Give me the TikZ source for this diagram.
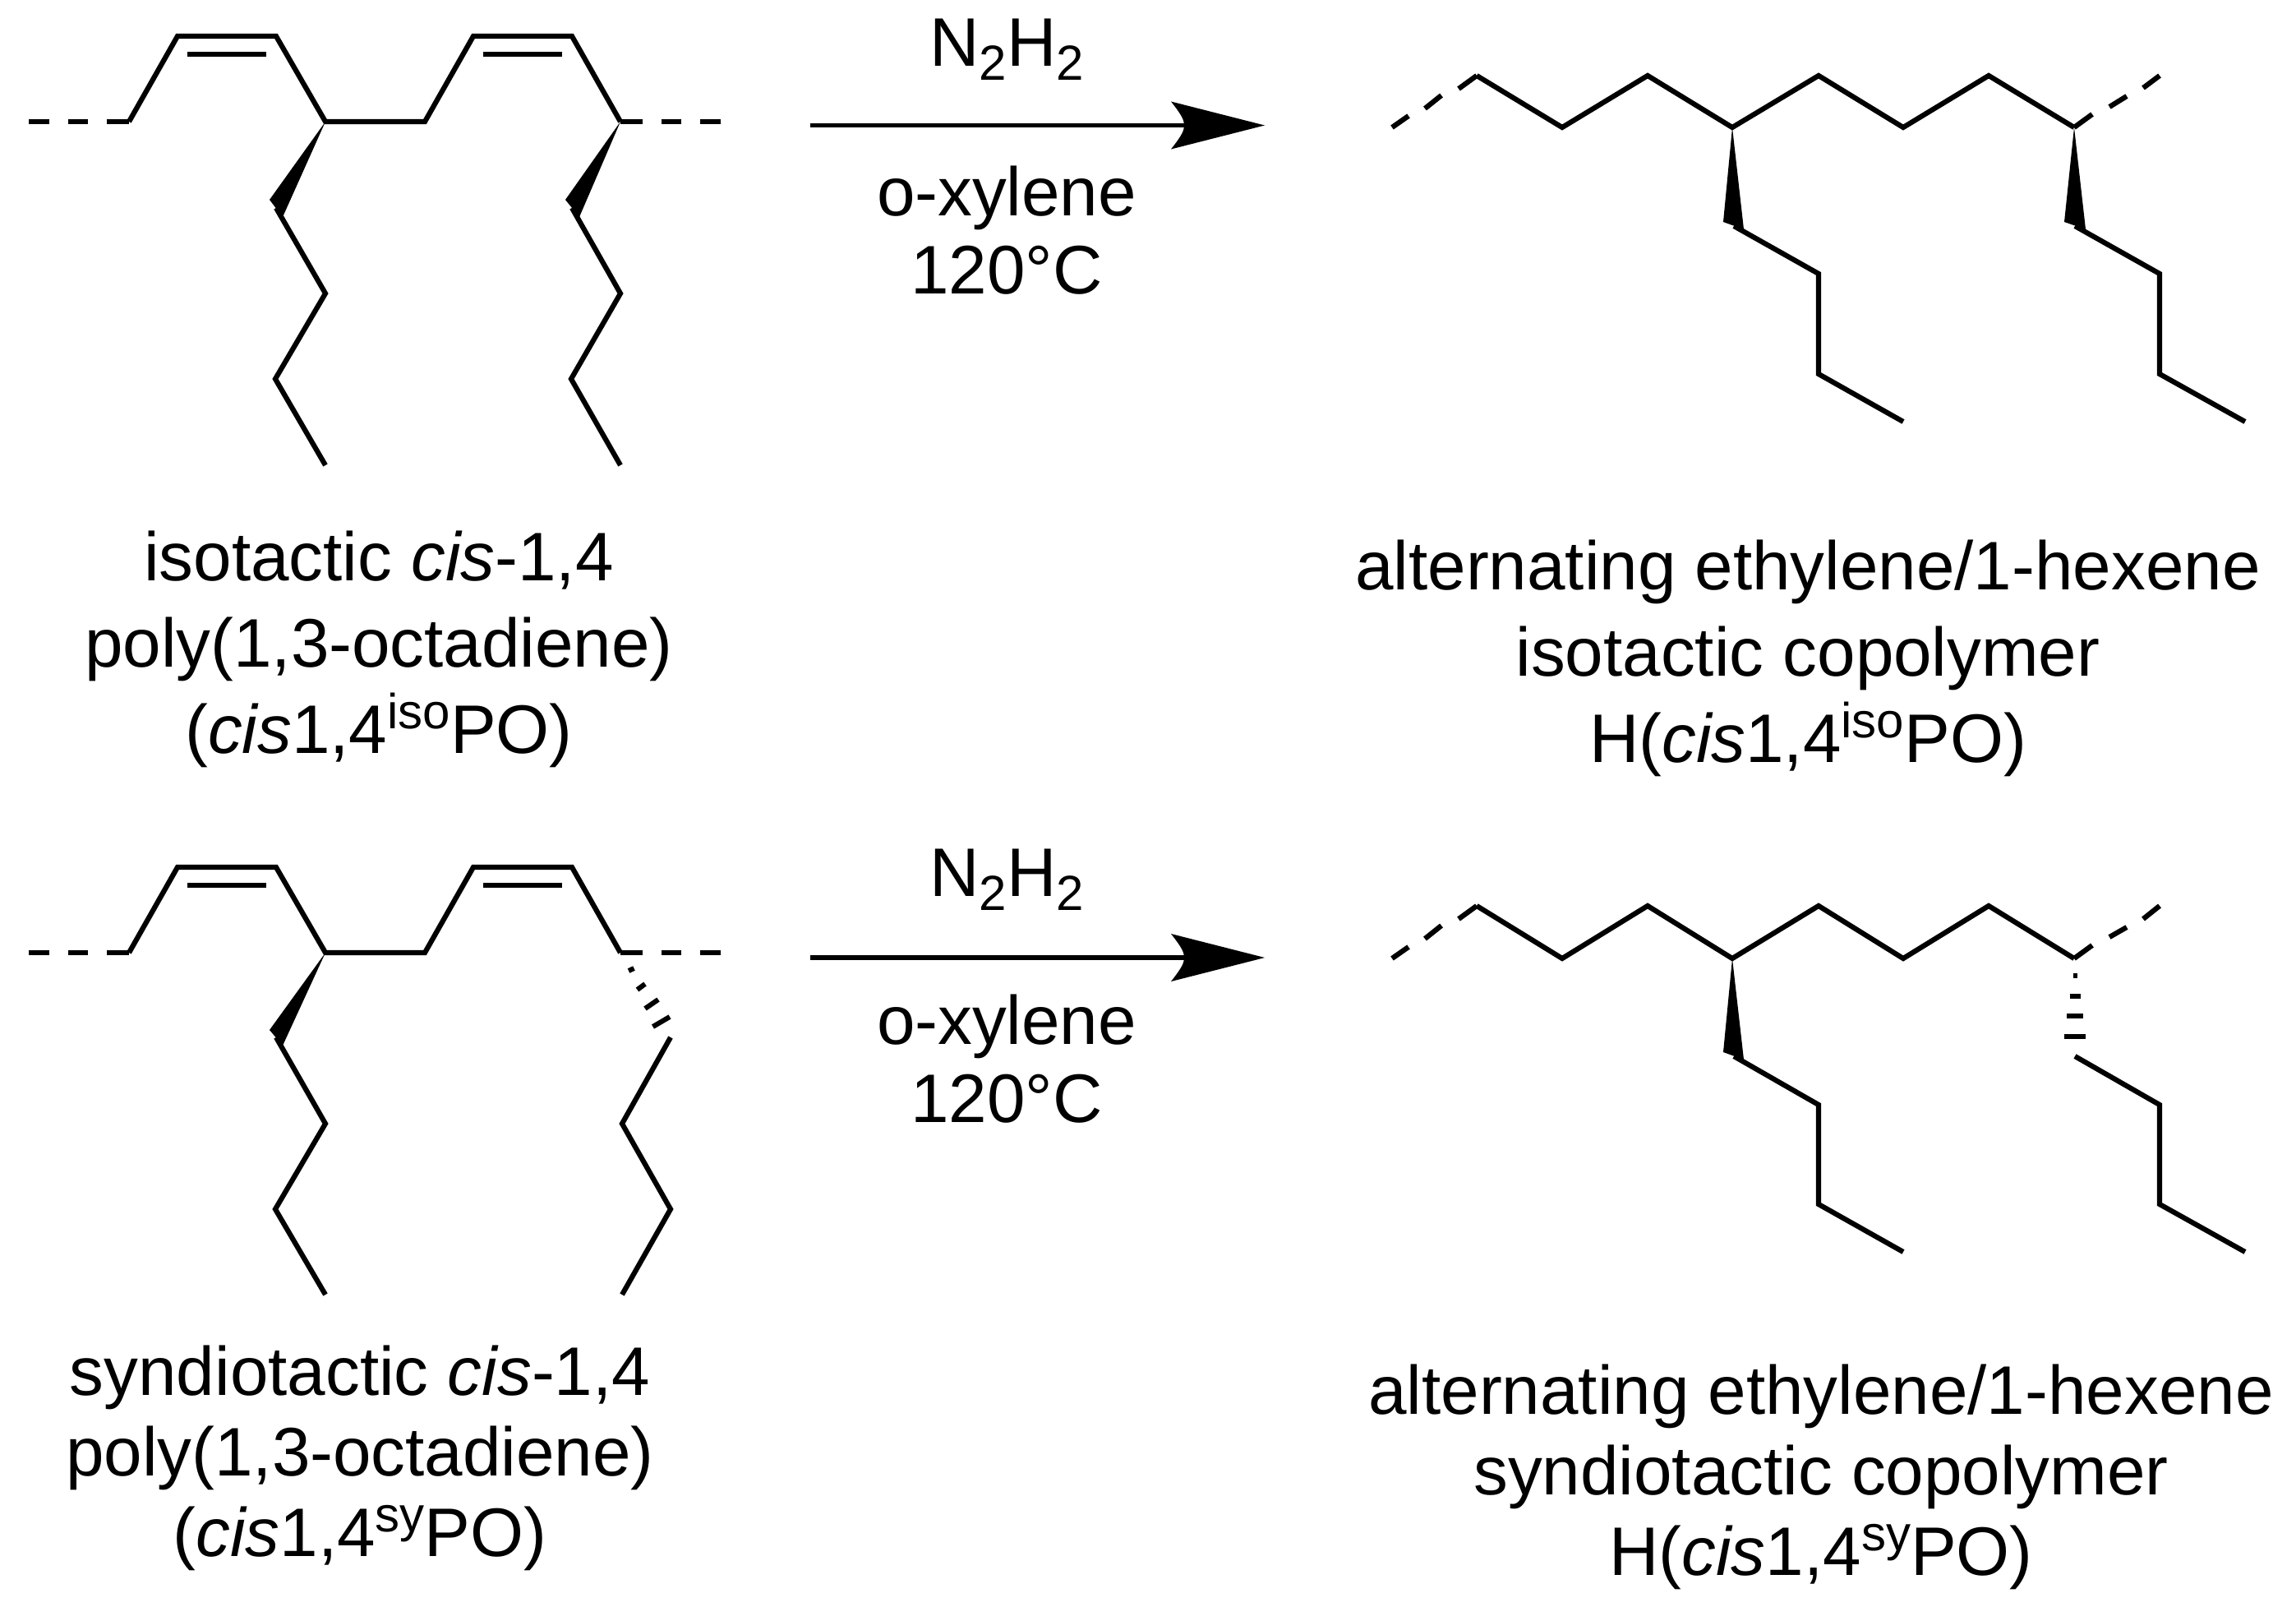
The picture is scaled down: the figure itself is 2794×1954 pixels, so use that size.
\documentclass[tikz,border=0pt]{standalone}
\usepackage{fontspec}
\setmainfont{Liberation Sans}
\newcommand{\chemsub}[1]{\raisebox{-17pt}{\fontsize{60}{60}\selectfont #1}}
\newcommand{\chemsup}[1]{\raisebox{30pt}{\fontsize{60}{60}\selectfont #1}}
\begin{document}
\begin{tikzpicture}[x=1pt,y=-1pt,
  bond/.style={line width=6.2pt,line join=miter,miter limit=4,line cap=butt},
  dashb/.style={line width=6.2pt,line cap=butt},
  hashb/.style={line width=6pt,line cap=butt},
  wedgeb/.style={fill=black,draw=none},
  label/.style={font=\fontsize{83.6}{#1}\selectfont,align=center,inner sep=0pt,anchor=center,text=black},
  label/.default=100,
  tip/.style={fill=black,draw=none},
  shaft/.style={line width=5.5pt}]
\useasboundingbox[fill=white] (0,0) rectangle (2794,1954);

% --- top-left polymer
\foreach \n/\px/\py in {a/157/148,b/216/44,c/336/44,d/396/148,e/517/148,f/576/44,g/696/44,h/755/148,
  i/336/253,j/396/357,k/335/461,l/396/566,m/696/253,o/755/357,p/695/461,q/755/566}
  {\coordinate (tl\n) at (\px,\py);}
\draw[bond] (tla)--(tlb)--(tlc)--(tld)--(tle)--(tlf)--(tlg)--(tlh);
\draw[bond] (228,66)--(324,66) (588,66)--(684,66);
\draw[dashb] (35,148)--(60,148) (83,148)--(107,148) (130,148)--(tla);
\draw[dashb] (tlh)--(782,148) (805,148)--(829,148) (852,148)--(877,148);
\fill[wedgeb] (396,148)--(328,243)--(344,264)--cycle;
\fill[wedgeb] (755,148)--(688,243)--(705,264)--cycle;
\draw[bond] (tli)--(tlj)--(tlk)--(tll);
\draw[bond] (tlm)--(tlo)--(tlp)--(tlq);

% --- top-right polymer
\foreach \n/\px/\py in {a/1797/92,b/1901/155,c/2005/92,d/2108/155,e/2213/92,f/2316/155,g/2420/92,h/2524/155,
  i/2110/275,j/2213/333,k/2213/455,l/2316/513,m/2525/275,o/2628/333,p/2628/455,q/2732/513}
  {\coordinate (tr\n) at (\px,\py);}
\draw[bond] (tra)--(trb)--(trc)--(trd)--(tre)--(trf)--(trg)--(trh);
\draw[dashb] (1694,155)--(1714,141) (1734,132)--(1754,116) (1775,108)--(tra);
\draw[dashb] (trh)--(2546,139) (2567,130)--(2588,117) (2608,107)--(2628,92);
\fill[wedgeb] (2108,155)--(2097,270)--(2122,279)--cycle;
\fill[wedgeb] (2524,155)--(2512,270)--(2538,279)--cycle;
\draw[bond] (tri)--(trj)--(trk)--(trl);
\draw[bond] (trm)--(tro)--(trp)--(trq);

% --- bottom-left polymer
\foreach \n/\px/\py in {a/157/1159,b/216/1055,c/336/1055,d/396/1159,e/517/1159,f/576/1055,g/696/1055,h/755/1159,
  i/336/1262,j/396/1367,k/335/1471,l/396/1575,m/816/1262,o/757/1367,p/816/1471,q/757/1575}
  {\coordinate (bl\n) at (\px,\py);}
\draw[bond] (bla)--(blb)--(blc)--(bld)--(ble)--(blf)--(blg)--(blh);
\draw[bond] (228,1077)--(324,1077) (588,1077)--(684,1077);
\draw[dashb] (35,1159)--(60,1159) (83,1159)--(107,1159) (130,1159)--(bla);
\draw[dashb] (blh)--(782,1159) (805,1159)--(829,1159) (852,1159)--(877,1159);
\fill[wedgeb] (396,1159)--(328,1253)--(344,1272)--cycle;
\draw[bond] (bli)--(blj)--(blk)--(bll);
\draw[hashb] (765,1181)--(771.5,1178) (775.5,1204)--(785,1197) (785,1227)--(801,1216) (794.5,1249)--(815,1237);
\draw[bond] (blm)--(blo)--(blp)--(blq);

% --- bottom-right polymer
\foreach \n/\px/\py in {a/1797/1102,b/1901/1166,c/2005/1102,d/2108/1166,e/2213/1102,f/2316/1166,g/2420/1102,h/2524/1166,
  i/2110/1285,j/2213/1344,k/2213/1465,l/2316/1523,m/2525/1285,o/2628/1344,p/2628/1465,q/2732/1523}
  {\coordinate (br\n) at (\px,\py);}
\draw[bond] (bra)--(brb)--(brc)--(brd)--(bre)--(brf)--(brg)--(brh);
\draw[dashb] (1694,1166)--(1714,1152) (1734,1142)--(1754,1126) (1775,1118)--(bra);
\draw[dashb] (brh)--(2546,1150) (2567,1140)--(2588,1128) (2608,1118)--(2628,1102);
\fill[wedgeb] (2108,1166)--(2097,1280)--(2122,1289)--cycle;
\draw[bond] (bri)--(brj)--(brk)--(brl);
\draw[hashb] (2522.5,1187)--(2527.5,1187) (2518.5,1212)--(2531.5,1212) (2515,1236)--(2535,1236) (2512,1261)--(2538,1261);
\draw[bond] (brm)--(bro)--(brp)--(brq);

% --- arrows
\coordinate (a1s) at (986,152.5); \coordinate (a1e) at (1539,152.5);
\coordinate (a2s) at (986,1165); \coordinate (a2e) at (1539,1165);
\draw[shaft] (a1s)--(1445,152.5);
\fill[tip] (a1e)--(1425,123.5) .. controls (1438,140) and (1441,146) .. (1441,152.5) .. controls (1441,159) and (1438,165) .. (1425,181.5)--cycle;
\draw[shaft] (a2s)--(1445,1165);
\fill[tip] (a2e)--(1425,1136) .. controls (1438,1152.5) and (1441,1158.5) .. (1441,1165) .. controls (1441,1171.5) and (1438,1177.5) .. (1425,1194)--cycle;

% --- labels
\node[label] (n1) at (1225,60) {N\chemsub{2}H\chemsub{2}};
\node[label] (n2) at (1225,1070) {N\chemsub{2}H\chemsub{2}};
\node[label=95] (c1) at (1225,280) {o-xylene\\120°C};
\node[label=95] (c2) at (1225,1288) {o-xylene\\120°C};
\node[label=105] (t1) at (461,790) {isotactic \textit{cis}-1,4\\poly(1,3-octadiene)\\(\textit{cis}1,4\chemsup{iso}PO)};
\node[label=105] (t2) at (2200,801) {alternating ethylene/1-hexene\\isotactic copolymer\\H(\textit{cis}1,4\chemsup{iso}PO)};
\node[label=98] (t3) at (438,1774) {syndiotactic \textit{cis}-1,4\\poly(1,3-octadiene)\\(\textit{cis}1,4\chemsup{sy}PO)};
\node[label=98] (t4) at (2216,1797) {alternating ethylene/1-hexene\\syndiotactic copolymer\\H(\textit{cis}1,4\chemsup{sy}PO)};
\end{tikzpicture}
\end{document}
